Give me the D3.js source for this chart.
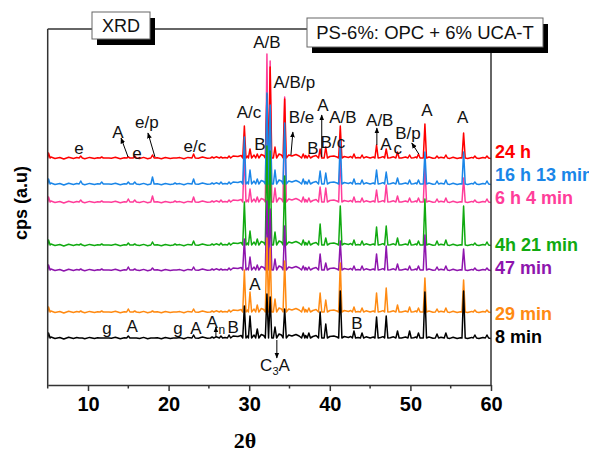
<html>
<head>
<script src="https://cdn.jsdelivr.net/npm/d3@7"></script>
<style>
  * { margin: 0; padding: 0; }
  body { background: #fff; font-family: "Liberation Sans", Arial, sans-serif; }
</style>
</head>
<body>
<svg id="viz"></svg>
<script>
// peak positions (2 theta) shared by all patterns
var peakPos = [5.1, 9.1, 11.7, 12.4, 15.0, 15.8, 18.0, 20.8, 23.1, 25.4, 26.5, 27.5, 29.4, 30.1, 31.0,
               32.2, 32.6, 33.2, 34.4, 36.7, 37.4, 38.8, 39.5, 41.3, 43.0, 44.0, 45.8, 47.0, 48.4,
               49.9, 51.0, 51.8, 53.3, 54.4, 56.6, 58.0, 59.5];

// peak heights, one list per sample (same order as peakPos)
var h24h   = [6, 3, 2, 1, 2, 3, 4, 1, 5, 2, 2, 3, 33, 10, 5, 65, 92, 12, 60, 5, 4, 10, 12, 33, 5, 4, 14, 10, 7, 4, 5, 35, 3, 4, 26, 3, 3];
var h16h   = [6, 4, 3, 1, 3, 3, 8, 2, 6, 2, 3, 3, 48, 15, 6, 92, 80, 15, 62, 6, 5, 14, 12, 45, 6, 5, 15, 13, 7, 5, 5, 33, 4, 5, 33, 3, 4];
var h6h    = [6, 3, 2, 1, 4, 3, 7, 2, 6, 2, 3, 3, 52, 14, 6, 149, 142, 15, 106, 6, 5, 16, 15, 50, 6, 5, 13, 18, 7, 5, 5, 38, 4, 5, 25, 3, 4];
var h4h    = [6, 2, 2, 1, 3, 2, 4, 2, 5, 2, 3, 3, 44, 15, 7, 100, 95, 14, 70, 6, 5, 22, 8, 40, 6, 5, 19, 20, 8, 6, 5, 47, 5, 6, 40, 3, 4];
var h47m   = [6, 2, 2, 1, 4, 2, 3, 1, 4, 2, 2, 3, 32, 14, 6, 70, 62, 12, 45, 5, 4, 17, 8, 30, 5, 5, 17, 25, 7, 5, 5, 36, 4, 5, 22, 3, 3];
var h29m   = [6, 2, 2, 1, 4, 2, 2, 1, 4, 2, 2, 3, 43, 21, 8, 75, 65, 14, 52, 6, 5, 20, 13, 50, 6, 5, 20, 25, 8, 6, 5, 35, 4, 5, 33, 3, 3];
var h8m    = [6, 1, 1, 1, 3, 1, 1, 1, 4, 2, 3, 4, 33, 23, 10, 45, 42, 12, 30, 6, 6, 27, 15, 48, 8, 6, 22, 23, 8, 8, 6, 47, 5, 6, 48, 4, 4];

// background wiggle of the patterns between the peaks: [2theta, cps above the offset]
var ripple = [
  [5.4, 2], [5.9, 0.5], [6.5, 1.5], [7.0, 0], [7.6, 1.8], [8.2, 0.6], [8.6, 1.4], [9.6, 0.3], [10.2, 1.6],
  [10.8, 0.4], [11.2, 1.2], [12.9, 0.8], [13.4, 1.7], [14.0, 0.2], [14.5, 1.3], [16.4, 0.5], [16.9, 1.6],
  [17.4, 0.3], [18.6, 1.2], [19.1, 0.2], [19.6, 1.5], [20.2, 0.6], [21.4, 1.4], [21.9, 0.3], [22.4, 1.6],
  [23.7, 0.8], [24.2, 2], [24.8, 0.8], [25.9, 2.2], [27.0, 1.5], [28.0, 3], [28.6, 2.5], [29.0, 3.5],
  [29.8, 3], [30.6, 4], [31.5, 4.5], [31.8, 3.5], [33.7, 5], [34.0, 4], [34.9, 4], [35.3, 3], [35.8, 4.5],
  [36.2, 3], [37.0, 3.5], [37.9, 2.5], [38.3, 3.5], [40.0, 2.5], [40.5, 3], [40.9, 2], [41.8, 2.5],
  [42.3, 1.5], [42.6, 2.5], [43.5, 1.5], [44.5, 2.2], [45.0, 1], [45.4, 2], [46.3, 1.5], [46.6, 2.4],
  [47.5, 1.2], [47.9, 2.2], [48.9, 1], [49.4, 2], [50.4, 1.2], [50.7, 2], [51.4, 1], [52.3, 2], [52.8, 0.8],
  [53.8, 1.8], [54.9, 0.6], [55.3, 1.8], [55.8, 0.5], [56.2, 1.3], [57.1, 0.6], [57.6, 1.6], [58.5, 0.4],
  [59.0, 1.4], [60.0, 0.5]
];

// stacking offset of each pattern (cps, a.u.)
var offsets = [182, 226, 200, 139, 114, 72, 46];
var names   = ["6 h 4 min", "24 h", "16 h 13 min", "4h 21 min", "47 min", "29 min", "8 min"];
var heights = [h6h, h24h, h16h, h4h, h47m, h29m, h8m];
var colors  = ["#ff3d9a", "#ff0000", "#1a86e8", "#11aa11", "#8e15ad", "#ff8a12", "#000000"];
// label level of each name on the right
var nameLevel = [187, 233, 210, 140, 117, 71, 48];

var xTicks = [10, 20, 30, 40, 50, 60];
var xMinor = [5, 15, 25, 35, 45, 55];

// phase marks: [2theta, level, text]
var marksTop = [
  [8.88, 237, "e"], [13.72, 253, "A"], [16.07, 232, "e"], [17.31, 263, "e/p"], [23.27, 239, "e/c"],
  [29.97, 273, "A/c"], [31.33, 241, "B"], [32.2, 343, "A/B"], [35.6, 303, "A/B/p"], [36.5, 268, "B/e"],
  [37.9, 237, "B"], [39.14, 280, "A"], [40.38, 243, "B/c"], [41.62, 268, "A/B"], [46.2, 265, "A/B"],
  [46.95, 241, "A"], [48.44, 237, "c"], [49.7, 252, "B/p"], [52.06, 275, "A"], [56.5, 268, "A"]
];
var marksBottom = [
  [12.37, 57, "g"], [15.47, 59, "A"], [21.17, 57, "g"], [23.4, 57, "A"], [25.4, 63, "A"],
  [28.0, 58, "B"], [30.7, 101, "A"], [43.36, 62, "B"]
];
// arrows: [2theta from, level from, 2theta to, level to]
var arrows = [
  [14.97, 228, 14.1, 247], [18.31, 228, 17.44, 252], [35.18, 230, 35.42, 253], [39.0, 228, 39.0, 270],
  [45.84, 240, 45.84, 257], [51.04, 231, 50.17, 242], [25.87, 48, 25.87, 58], [33.43, 45, 33.43, 27]
];

var W = 589, H = 456;
var svg = d3.select("#viz").attr("width", W).attr("height", H);

var x = d3.scaleLinear().domain([5, 60]).range([47.7, 491]);
var y = d3.scaleLinear().domain([0, 356]).range([385, 29]);

var defs = svg.append("defs");
defs.append("clipPath").attr("id", "clip")
  .append("rect").attr("x", x(5)).attr("y", 0).attr("width", x(60) - x(5)).attr("height", y(0));
defs.append("marker").attr("id", "arr")
  .attr("viewBox", "0 0 10 10").attr("refX", 9).attr("refY", 5)
  .attr("markerWidth", 6).attr("markerHeight", 6).attr("orient", "auto")
  .append("path").attr("d", "M0,1 L10,5 L0,9 Z").attr("fill", "#000");

var hw = 0.2;
function profile(hs, off) {
  var pts = [[5, off + 1]];
  ripple.forEach(function (r) {
    // leave out wiggle points that fall inside a peak
    var inside = peakPos.some(function (p) { return Math.abs(r[0] - p) <= hw; });
    if (!inside) pts.push([r[0], off + r[1]]);
  });
  peakPos.forEach(function (p, i) {
    pts.push([p - hw, off + 1], [p, off + hs[i]], [p + hw, off + 1]);
  });
  pts.sort(function (a, b) { return a[0] - b[0]; });
  return pts;
}

var line = d3.line().x(function (d) { return x(d[0]); }).y(function (d) { return y(d[1]); });

var g = svg.append("g").attr("clip-path", "url(#clip)");
heights.forEach(function (hs, i) {
  g.append("path")
    .attr("d", line(profile(hs, offsets[i])))
    .attr("fill", "none")
    .attr("stroke", colors[i])
    .attr("stroke-width", 1.5)
    .attr("stroke-linejoin", "round");
});

// frame
var axisCol = "#333";
svg.append("line").attr("x1", x(5)).attr("x2", x(5)).attr("y1", y(356)).attr("y2", y(0))
  .attr("stroke", axisCol).attr("stroke-width", 1.5);
svg.append("line").attr("x1", x(5)).attr("x2", 310).attr("y1", y(356)).attr("y2", y(356))
  .attr("stroke", axisCol).attr("stroke-width", 1.5);
svg.append("line").attr("x1", x(60)).attr("x2", x(60)).attr("y1", 45).attr("y2", y(0))
  .attr("stroke", axisCol).attr("stroke-width", 1.5);

var xAxis = svg.append("g").attr("transform", "translate(0," + y(0) + ")")
  .call(d3.axisBottom(x).tickValues(xTicks).tickSize(6).tickSizeOuter(0).tickPadding(6));
xAxis.select(".domain").attr("stroke", axisCol).attr("stroke-width", 1.5);
xAxis.selectAll(".tick line").attr("stroke", axisCol).attr("stroke-width", 1.5);
xAxis.selectAll("text").attr("font-family", "Liberation Sans, Arial, sans-serif")
  .attr("font-size", 20).attr("font-weight", "bold").attr("fill", "#000");
svg.append("g").selectAll("line").data(xMinor).enter().append("line")
  .attr("x1", function (d) { return x(d); }).attr("x2", function (d) { return x(d); })
  .attr("y1", y(0)).attr("y2", y(0) + 3.5)
  .attr("stroke", axisCol).attr("stroke-width", 1.5);

// axis titles
svg.append("text").attr("x", 245).attr("y", 448).attr("text-anchor", "middle")
  .attr("font-family", "Liberation Serif, Times New Roman, serif").attr("font-weight", "bold")
  .attr("font-size", 22).text("2\u03b8");
svg.append("text").attr("transform", "translate(27,203) rotate(-90)").attr("text-anchor", "middle")
  .attr("font-weight", "bold").attr("font-size", 18).text("cps (a.u)");

// sample names
svg.append("g").selectAll("text").data(names).enter().append("text")
  .attr("x", 495)
  .attr("y", function (d, i) { return y(nameLevel[i]); })
  .attr("dy", "0.36em")
  .attr("font-weight", "bold").attr("font-size", 18)
  .attr("fill", function (d, i) { return colors[i]; })
  .text(function (d) { return d; });

// phase marks
var marks = marksTop.concat(marksBottom);
svg.append("g").selectAll("text").data(marks).enter().append("text")
  .attr("x", function (d) { return x(d[0]); })
  .attr("y", function (d) { return y(d[1]); })
  .attr("dy", "0.36em").attr("text-anchor", "middle")
  .attr("font-size", 17).attr("fill", "#111")
  .text(function (d) { return d[2]; });
svg.append("text").attr("x", x(26.6)).attr("y", y(55)).attr("dy", "0.36em")
  .attr("text-anchor", "middle").attr("font-size", 12).attr("fill", "#111").text("n");
var c3a = svg.append("text").attr("x", x(33.2)).attr("y", y(20)).attr("dy", "0.36em")
  .attr("text-anchor", "middle").attr("font-size", 17).attr("fill", "#111");
c3a.append("tspan").text("C");
c3a.append("tspan").attr("font-size", 11).attr("dy", 4).text("3");
c3a.append("tspan").attr("dy", -4).text("A");

svg.append("g").selectAll("line").data(arrows).enter().append("line")
  .attr("x1", function (d) { return x(d[0]); }).attr("y1", function (d) { return y(d[1]); })
  .attr("x2", function (d) { return x(d[2]); }).attr("y2", function (d) { return y(d[3]); })
  .attr("stroke", "#000").attr("stroke-width", 1).attr("marker-end", "url(#arr)");

// title boxes with shadow
function box(x0, y0, w, h, label, fs) {
  svg.append("rect").attr("x", x0 + 5).attr("y", y0 + 6).attr("width", w).attr("height", h).attr("fill", "#000");
  svg.append("rect").attr("x", x0).attr("y", y0).attr("width", w).attr("height", h)
    .attr("fill", "#fff").attr("stroke", "#666").attr("stroke-width", 1);
  svg.append("text").attr("x", x0 + w / 2).attr("y", y0 + h / 2).attr("dy", "0.36em")
    .attr("text-anchor", "middle").attr("font-size", fs).attr("fill", "#111").text(label);
}
box(92, 12, 58, 27, "XRD", 18);
box(307, 18, 236, 29, "PS-6%: OPC + 6% UCA-T", 18.5);
</script>
</body>
</html>
